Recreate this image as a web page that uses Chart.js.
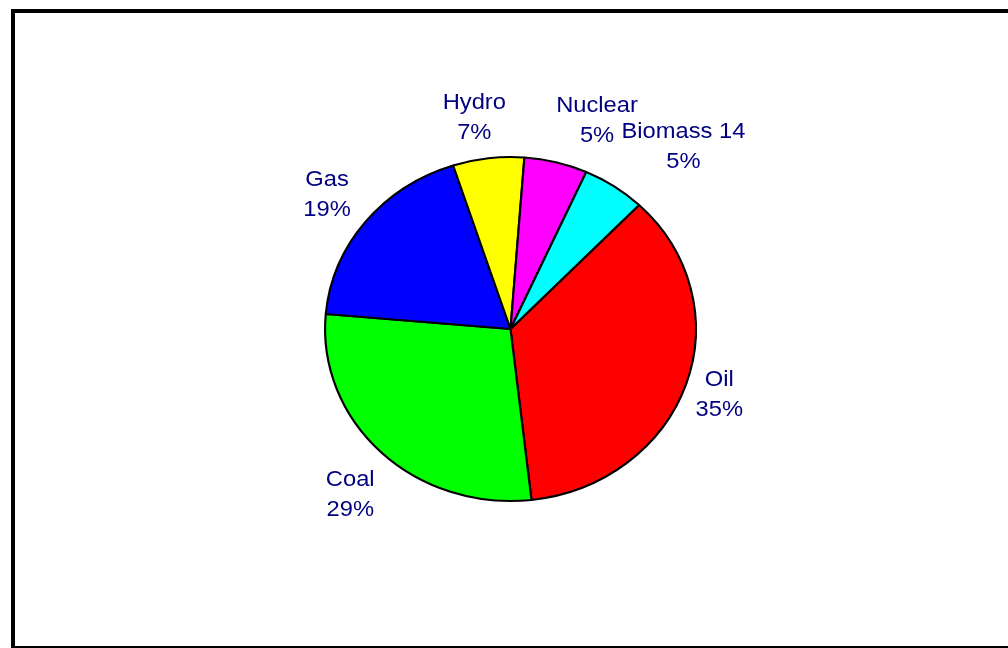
<!DOCTYPE html>
<html>
<head>
<meta charset="utf-8">
<script src="https://cdn.jsdelivr.net/npm/chart.js@4/dist/chart.umd.min.js"></script>
<style>
  html, body { margin: 0; padding: 0; background: #fff; overflow: hidden; width: 1008px; height: 648px; }
  #frame { position: absolute; left: 11px; top: 9px; width: 1100px; height: 639px; box-sizing: border-box;
           border-left: 4px solid #000; border-top: 4px solid #000; border-bottom: 2px solid #000; }
  #wrap { position: absolute; left: 0; top: 0; width: 1008px; height: 648px; }
</style>
</head>
<body>
<div id="frame"></div>
<div id="wrap"><canvas id="c" width="1008" height="648"></canvas></div>
<script>
const categories = ['Oil', 'Coal', 'Gas', 'Hydro', 'Nuclear', 'Biomass 14'];
const values = [36.0, 28.2, 18.6, 6.2, 5.5, 5.5];
const percentLabels = ['35%', '29%', '19%', '7%', '5%', '5%'];
const sliceColors = ['#FF0000', '#00FF00', '#0000FF', '#FFFF00', '#FF00FF', '#00FFFF'];

// horizontal stretch of the drawing (the reference pie is slightly wider than tall)
const STRETCH_X = 1.078;
// label placement: [angle shift in degrees from slice middle, distance from centre in px]
const labelPlacement = [[-0.4, 204], [-2.1, 221.5], [0.2, 218], [-2.1, 215.5], [6.7, 225], [7.1, 244]];

const stretchPlugin = {
  id: 'stretch',
  beforeDatasetsDraw(chart) {
    const ctx = chart.ctx;
    const cx = (chart.chartArea.left + chart.chartArea.right) / 2;
    ctx.save();
    ctx.translate(cx, 0);
    ctx.scale(STRETCH_X, 1);
    ctx.translate(-cx, 0);
  },
  afterDatasetsDraw(chart) {
    chart.ctx.restore();
  }
};

const labelPlugin = {
  id: 'sliceLabels',
  afterDatasetsDraw(chart) {
    const ctx = chart.ctx;
    const meta = chart.getDatasetMeta(0);
    ctx.save();
    ctx.font = '22px "Liberation Sans", Arial, sans-serif';
    ctx.fillStyle = '#000080';
    ctx.textAlign = 'center';
    ctx.textBaseline = 'alphabetic';
    meta.data.forEach((arc, i) => {
      const p = arc.getProps(['x', 'y', 'startAngle', 'endAngle'], true);
      const mid = (p.startAngle + p.endAngle) / 2 + labelPlacement[i][0] * Math.PI / 180;
      const d = labelPlacement[i][1];
      const cx = p.x + d * Math.cos(mid) * STRETCH_X;
      const cy = p.y + d * Math.sin(mid);
      [[chart.data.labels[i], cy - 7], [percentLabels[i], cy + 23]].forEach(([t, y]) => {
        ctx.save();
        ctx.translate(cx, y);
        ctx.scale(STRETCH_X, 1);
        ctx.fillText(t, 0, 0);
        ctx.restore();
      });
    });
    ctx.restore();
  }
};

new Chart(document.getElementById('c'), {
  type: 'pie',
  data: {
    labels: categories,
    datasets: [{
      data: values,
      backgroundColor: sliceColors,
      borderColor: '#000000',
      borderWidth: 2,
      borderAlign: 'center'
    }]
  },
  options: {
    responsive: false,
    animation: false,
    rotation: 43.9,
    radius: 172,
    layout: { padding: { left: 100, right: 87, top: 20, bottom: 10 } },
    plugins: {
      legend: { display: false },
      tooltip: { enabled: false }
    }
  },
  plugins: [stretchPlugin, labelPlugin]
});
</script>
</body>
</html>
